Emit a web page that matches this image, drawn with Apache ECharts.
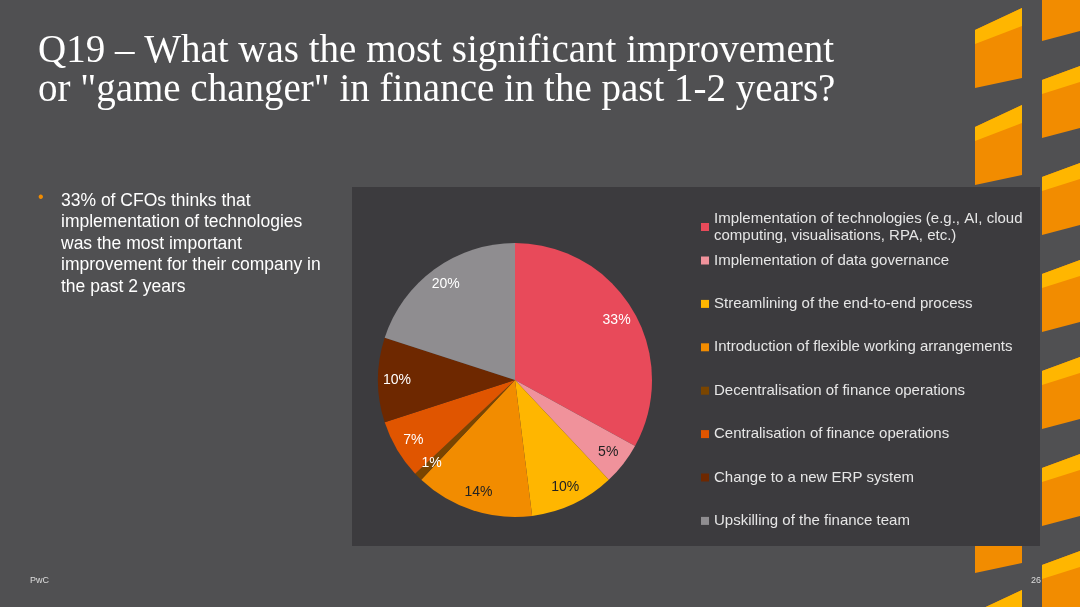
<!DOCTYPE html>
<html><head><meta charset="utf-8">
<script src="https://cdn.jsdelivr.net/npm/echarts@6/dist/echarts.min.js"></script>
<style>html,body{margin:0;padding:0;background:#505052;}#c{width:1080px;height:607px;}</style>
</head><body><div id="c"></div>
<script>
const categories = [
  "Implementation of technologies (e.g., AI, cloud\ncomputing, visualisations, RPA, etc.)",
  "Implementation of data governance",
  "Streamlining of the end-to-end process",
  "Introduction of flexible working arrangements",
  "Decentralisation of finance operations",
  "Centralisation of finance operations",
  "Change to a new ERP system",
  "Upskilling of the finance team"
];
const values = [33, 5, 10, 14, 1, 7, 10, 20];
const colors = ["#E84A5A","#F0929B","#FFB600","#F28C00","#7A4500","#E05500","#6E2800","#8F8D90"];
const labelColors = ["#fff","#222","#222","#222","#fff","#fff","#fff","#fff"];

const chart = echarts.init(document.getElementById('c'));
const data = categories.map((n,i)=>({name:n,value:values[i],itemStyle:{color:colors[i]}}));
const labelData = categories.map((n,i)=>({name:n,value:values[i],itemStyle:{color:'rgba(0,0,0,0)'},
  label:{color:labelColors[i]}}));

const deco = [];
for (let k=-1;k<7;k++){
  const y0 = k*97+8;
  deco.push({type:'polygon',z:-20,shape:{points:[[975,y0+22],[1022,y0],[1022,y0+70],[975,y0+80]]},style:{fill:'#F28C00'}});
  deco.push({type:'polygon',z:-19,shape:{points:[[975,y0+22],[1022,y0],[1022,y0+18],[975,y0+36]]},style:{fill:'#FFB600'}});
  const y1 = y0+50;
  deco.push({type:'polygon',z:-20,shape:{points:[[1042,y1+22],[1080,y1+8],[1080,y1+70],[1042,y1+80]]},style:{fill:'#F28C00'}});
  deco.push({type:'polygon',z:-19,shape:{points:[[1042,y1+22],[1080,y1+8],[1080,y1+24],[1042,y1+36]]},style:{fill:'#FFB600'}});
}

chart.setOption({
  backgroundColor:'#505052',
  animation:false,
  graphic:[
    ...deco,
    {type:'rect',z:-5,shape:{x:352,y:187,width:688,height:359},style:{fill:'#3C3B3E'}},
    {type:'text',left:38,top:32,style:{text:'Q19 – What was the most significant improvement\nor "game changer" in finance in the past 1-2 years?',
      fill:'#fff',font:'39px "Liberation Serif", serif',lineHeight:39}},
    {type:'text',left:38,top:190,style:{text:'•',fill:'#F28C00',font:'16px "Liberation Sans", Arial'}},
    {type:'text',left:61,top:190,style:{text:'33% of CFOs thinks that\nimplementation of technologies\nwas the most important\nimprovement for their company in\nthe past 2 years',
      fill:'#fff',font:'17.5px "Liberation Sans", Arial',lineHeight:21.5}},
    {type:'text',left:30,top:576,style:{text:'PwC',fill:'#ddd',font:'9px "Liberation Sans", Arial'}},
    {type:'text',left:1031,top:576,style:{text:'26',fill:'#ddd',font:'9px "Liberation Sans", Arial'}}
  ],
  legend:[
    {orient:'vertical',left:696,top:205,icon:'rect',itemWidth:8,itemHeight:8,itemGap:10,
     data:[categories[0]],textStyle:{color:'#E6E6E6',fontSize:15,fontFamily:'Liberation Sans',lineHeight:17},selectedMode:false},
    {orient:'vertical',left:696,top:248,icon:'rect',itemWidth:8,itemHeight:8,itemGap:28.4,
     data:categories.slice(1),textStyle:{color:'#E6E6E6',fontSize:15,fontFamily:'Liberation Sans'},selectedMode:false}
  ],
  series:[
    {type:'pie',center:[515,380],radius:[0,137],startAngle:90,clockwise:true,data:data,
     label:{show:false},labelLine:{show:false},silent:true},
    {type:'pie',center:[515,380],radius:[0,230],startAngle:90,clockwise:true,data:labelData,
     label:{show:true,position:'inside',formatter:'{c}%',fontSize:14,fontFamily:'Liberation Sans'},
     labelLine:{show:false},silent:true,legendHoverLink:false}
  ]
});
</script></body></html>
